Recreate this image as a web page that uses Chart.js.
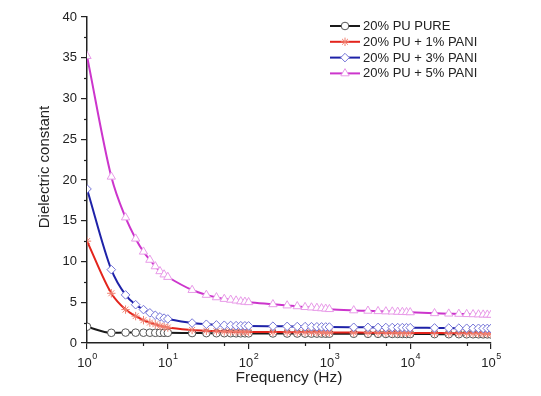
<!DOCTYPE html>
<html>
<head>
<meta charset="utf-8">
<script src="https://cdn.jsdelivr.net/npm/chart.js@4.4.1/dist/chart.umd.min.js"></script>
<style>
  body { margin: 0; background: #fff; }
  #wrap { width: 541px; height: 396px; }
</style>
</head>
<body>
<div id="wrap"><canvas id="myChart"></canvas></div>
<script>
// frequencies (Hz)
const freq = [1,2,3,4,5,6,7,8,9,
  10,20,30,40,50,60,70,80,90,
  100,200,300,400,500,600,700,800,900,
  1000,2000,3000,4000,5000,6000,7000,8000,9000,
  10000,20000,30000,40000,50000,60000,70000,80000,90000,
  100000];

const seriesNames = ['20% PU PURE', '20% PU + 1% PANI', '20% PU + 3% PANI', '20% PU + 5% PANI'];

const pure = [2.0,1.25,1.28,1.27,1.26,1.26,1.25,1.25,1.25,
  1.25,1.22,1.21,1.2,1.2,1.2,1.19,1.19,1.19,
  1.18,1.17,1.16,1.16,1.15,1.15,1.15,1.15,1.14,
  1.14,1.13,1.12,1.12,1.11,1.11,1.11,1.11,1.1,
  1.1,1.09,1.08,1.08,1.07,1.07,1.07,1.06,1.06,
  1.05];
const pani1 = [12.5,6.1,4.1,3.3,2.8,2.5,2.3,2.1,2.0,
  1.9,1.6,1.5,1.45,1.42,1.4,1.39,1.38,1.37,
  1.36,1.34,1.33,1.32,1.32,1.31,1.31,1.3,1.3,
  1.3,1.28,1.27,1.26,1.26,1.25,1.25,1.25,1.24,
  1.24,1.22,1.21,1.2,1.2,1.19,1.19,1.18,1.18,
  1.17];
const pani3 = [18.9,9.0,5.9,4.7,4.1,3.7,3.4,3.2,3.05,
  2.95,2.45,2.3,2.22,2.18,2.15,2.13,2.12,2.11,
  2.1,2.06,2.04,2.02,2.01,2.0,1.99,1.98,1.97,
  1.96,1.93,1.92,1.91,1.9,1.9,1.89,1.89,1.88,
  1.88,1.85,1.83,1.82,1.81,1.8,1.8,1.79,1.79,
  1.78];
const pani5 = [35.2,20.4,15.4,12.8,11.2,10.2,9.4,8.8,8.4,
  8.1,6.5,5.9,5.6,5.4,5.3,5.2,5.1,5.05,
  5.0,4.75,4.6,4.5,4.4,4.35,4.3,4.25,4.2,
  4.15,4.0,3.95,3.9,3.87,3.85,3.82,3.8,3.78,
  3.76,3.65,3.6,3.57,3.54,3.52,3.5,3.48,3.47,
  3.45];

const yTicks = [0,5,10,15,20,25,30,35,40];
const xDecades = [1,10,100,1000,10000,100000];

const FONT = 'Liberation Sans, Arial, sans-serif';

function mk(label, vals, line, mark, style, r, order) {
  return {
    label: label,
    data: freq.map((f, i) => ({x: f, y: vals[i]})),
    borderColor: line,
    borderWidth: 2,
    pointStyle: style,
    pointRadius: r,
    pointBorderColor: mark,
    pointBackgroundColor: '#ffffff',
    pointBorderWidth: 1,
    cubicInterpolationMode: 'monotone',
    order: order
  };
}

// leyenda, titulos y ticks menores dibujados a mano
const extras = {
  id: 'extras',
  afterDraw(chart) {
    const ctx = chart.ctx;
    const xs = chart.scales.x, ys = chart.scales.y;
    const area = chart.chartArea;
    ctx.save();
    ctx.strokeStyle = '#222';
    ctx.lineWidth = 1.2;
    // minor ticks
    for (let v = 2.5; v < 40; v += 5) {
      const y = Math.round(ys.getPixelForValue(v)) + 0.5;
      ctx.beginPath(); ctx.moveTo(area.left - 3, y); ctx.lineTo(area.left, y); ctx.stroke();
    }
    xDecades.slice(0, -1).forEach(d => {
      const x = Math.round(xs.getPixelForValue(d * 5)) + 0.5;
      ctx.beginPath(); ctx.moveTo(x, area.bottom); ctx.lineTo(x, area.bottom + 3); ctx.stroke();
    });
    // x tick labels 10^n
    ctx.fillStyle = '#222';
    ctx.textBaseline = 'middle';
    xDecades.forEach((d, i) => {
      const x = xs.getPixelForValue(d);
      ctx.font = '13px ' + FONT;
      const w1 = ctx.measureText('10').width;
      ctx.font = '9px ' + FONT;
      const w2 = ctx.measureText(String(i)).width;
      const x0 = x - (w1 + w2) / 2;
      ctx.textAlign = 'left';
      ctx.font = '13px ' + FONT;
      ctx.fillText('10', x0, 363);
      ctx.font = '9px ' + FONT;
      ctx.fillText(String(i), x0 + w1 + 0.5, 357);
    });
    // axis titles
    ctx.font = '15.5px ' + FONT;
    ctx.textAlign = 'center';
    ctx.fillText('Frequency (Hz)', (area.left + area.right) / 2, 378);
    ctx.save();
    ctx.translate(45, 167);
    ctx.rotate(-Math.PI / 2);
    ctx.font = '15px ' + FONT;
    ctx.fillText('Dielectric constant', 0, 0);
    ctx.restore();
    // legend
    ctx.font = '13px ' + FONT;
    ctx.textAlign = 'left';
    chart.data.datasets.forEach((ds, i) => {
      const y = 26 + i * 15.8;
      ctx.strokeStyle = ds.borderColor;
      ctx.lineWidth = 2;
      ctx.beginPath(); ctx.moveTo(330, y); ctx.lineTo(360, y); ctx.stroke();
      ctx.fillStyle = ds.pointBackgroundColor;
      ctx.strokeStyle = ds.pointBorderColor;
      ctx.lineWidth = 1;
      Chart.helpers.drawPoint(ctx, {pointStyle: ds.pointStyle, radius: ds.pointRadius, borderWidth: 1}, 345, y);
      ctx.fillStyle = '#222';
      ctx.fillText(ds.label, 363, y + 0.5);
    });
    ctx.restore();
  }
};

const config = {
  type: 'line',
  data: {
    datasets: [
      mk(seriesNames[0], pure, '#1a1a1a', '#555555', 'circle', 3.8, 4),
      mk(seriesNames[1], pani1, '#e3241c', '#f08070', 'star', 4.2, 3),
      mk(seriesNames[2], pani3, '#1e22a8', '#7575d8', 'rectRot', 4.3, 2),
      mk(seriesNames[3], pani5, '#cc35cc', '#e89ae8', 'triangle', 4.8, 1)
    ]
  },
  options: {
    responsive: true,
    maintainAspectRatio: false,
    animation: false,
    layout: { padding: { left: 0, top: 17, right: 50, bottom: 0 } },
    plugins: { legend: { display: false }, tooltip: { enabled: false } },
    scales: {
      x: {
        type: 'logarithmic',
        min: 1,
        max: 100000,
        afterBuildTicks: s => { s.ticks = xDecades.map(v => ({value: v})); },
        afterFit: s => { s.height = 53; },
        ticks: { display: false },
        grid: { drawOnChartArea: false, tickLength: 6, color: '#222', lineWidth: 1.2 },
        border: { color: '#222', width: 1.5 }
      },
      y: {
        min: 0,
        max: 40,
        afterBuildTicks: s => { s.ticks = yTicks.map(v => ({value: v})); },
        afterFit: s => { s.width = 87; },
        ticks: { color: '#222', padding: 4, font: { family: FONT, size: 13 } },
        grid: { drawOnChartArea: false, tickLength: 6, color: '#222', lineWidth: 1.2 },
        border: { color: '#222', width: 1.5 }
      }
    }
  },
  plugins: [extras]
};

const chart = new Chart(document.getElementById('myChart'), config);
</script>
</body>
</html>
